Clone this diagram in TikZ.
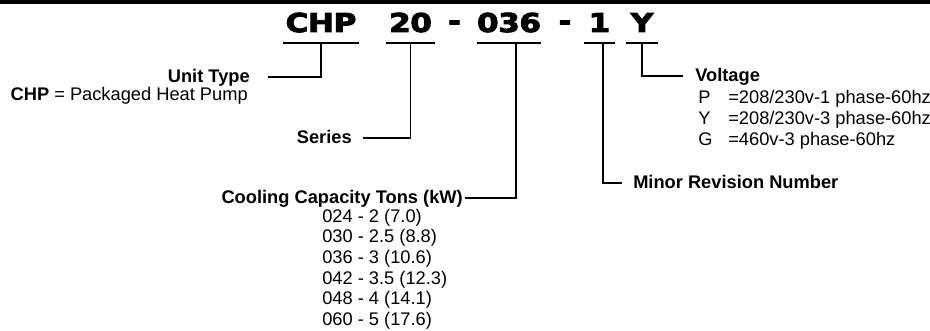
\documentclass[tikz,border=0pt]{standalone}
\usepackage{fontspec}
\setmainfont{Liberation Sans}
\newfontfamily\codefont[FakeStretch=1.2,FakeBold=3.5,LetterSpace=-2]{DejaVu Sans Bold}
\usetikzlibrary{positioning,calc}

\begin{document}
\begin{tikzpicture}[
  x=0.75pt, y=-0.75pt,
  codepart/.style={font=\codefont\fontsize{19.5}{20}\selectfont, inner xsep=0pt, inner ysep=8.25pt, text depth=0pt, anchor=base},
  heading/.style={font=\fontsize{13.7}{15.5}\selectfont\bfseries, inner sep=0pt, text height=8.25pt, text depth=0pt},
  entry/.style={font=\fontsize{13.7}{15.5}\selectfont, inner sep=0pt},
  uline/.style={line width=1.4pt},
  link/.style={line width=1.4pt}
]
\useasboundingbox (0,0) rectangle (930,331);
\fill (0,0) rectangle (930,4.5);

% model number
\node[codepart, minimum width=57pt] (chp) at (321,32) {CHP};
\node[codepart, minimum width=36.75pt] (series20) at (410.5,32) {20};
\node[codepart] (dashA) at (454.5,30) {-};
\node[codepart, minimum width=48pt] (cap036) at (509,32) {036};
\node[codepart] (dashB) at (565,30) {-};
\node[codepart, minimum width=23.25pt] (rev1) at (599.5,32) {1};
\node[codepart, minimum width=24pt] (volt) at (642,32) {Y};

\draw[uline] (chp.south west) -- (chp.south east);
\draw[uline] (series20.south west) -- (series20.south east);
\draw[uline] (cap036.south west) -- (cap036.south east);
\draw[uline] (rev1.south west) -- (rev1.south east);
\draw[uline] (volt.south west) -- (volt.south east);

% descriptions
\node[heading, anchor=base east] (unittype) at (250,82.5) {Unit Type};
\node[entry, anchor=base east] (unitdesc) at (248,100.5) {\textbf{CHP} = Packaged Heat Pump};
\node[heading, anchor=base east] (series) at (352,143.5) {Series};
\node[heading, anchor=base east] (cooling) at (463,203.5) {Cooling Capacity Tons (kW)};
\node[entry, anchor=base west] (tons) at (322,222) {\begin{tabular}[t]{@{}l@{}}
024 - 2 (7.0)\\
030 - 2.5 (8.8)\\
036 - 3 (10.6)\\
042 - 3.5 (12.3)\\
048 - 4 (14.1)\\
060 - 5 (17.6)
\end{tabular}};
\node[heading, anchor=base west] (voltage) at (695,81.5) {Voltage};
\node[entry, anchor=base west] (phases) at (698,104) {\begin{tabular}[t]{@{}p{22.5pt}@{}l@{}}
P & =208/230v-1 phase-60hz\\
Y & =208/230v-3 phase-60hz\\
G & =460v-3 phase-60hz
\end{tabular}};
\node[heading, anchor=base west] (minor) at (633,188.5) {Minor Revision Number};

\draw[link] (chp.south) |- ([xshift=13.5pt]unittype.east);
\draw[link] (series20.south) |- ([xshift=8.25pt]series.east);
\draw[link] ([xshift=5.25pt]cap036.south) |- ([xshift=1.5pt]cooling.east);
\draw[link] ([xshift=2.6pt]rev1.south) |- ([xshift=-8.25pt]minor.west);
\draw[link] (volt.south) |- ([xshift=-9pt]voltage.west);
\end{tikzpicture}
\end{document}
